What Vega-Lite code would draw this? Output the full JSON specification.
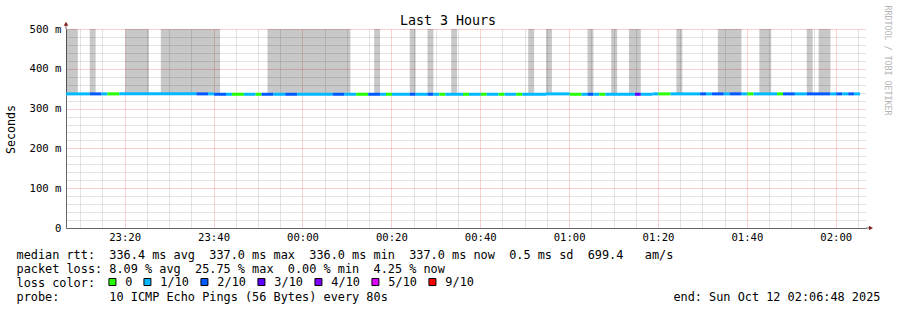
{
  "$schema": "https://vega.github.io/schema/vega-lite/v6.json",
  "width": 800,
  "height": 199,
  "autosize": {"type": "none"},
  "padding": {"left": 66, "top": 29, "right": 31, "bottom": 82},
  "background": "white",
  "title": {"text": "Last 3 Hours", "anchor": "middle", "frame": "group", "dx": -18, "dy": 38, "offset": 5, "baseline": "alphabetic", "font": "DejaVu Sans Mono", "fontSize": 13.3, "fontWeight": "normal", "color": "black"},
  "config": {"view": {"stroke": null}, "font": "DejaVu Sans Mono"},
  "datasets": {
    "smoke": [
      {"start": "2025-10-11T23:06:48Z", "end": "2025-10-11T23:09:28Z", "lo": 337, "hi": 520},
      {"start": "2025-10-11T23:12:08Z", "end": "2025-10-11T23:13:28Z", "lo": 337, "hi": 520},
      {"start": "2025-10-11T23:20:08Z", "end": "2025-10-11T23:25:28Z", "lo": 337, "hi": 520},
      {"start": "2025-10-11T23:28:08Z", "end": "2025-10-11T23:41:28Z", "lo": 337, "hi": 520},
      {"start": "2025-10-11T23:52:08Z", "end": "2025-10-12T00:10:48Z", "lo": 337, "hi": 520},
      {"start": "2025-10-12T00:16:08Z", "end": "2025-10-12T00:17:28Z", "lo": 337, "hi": 520},
      {"start": "2025-10-12T00:24:08Z", "end": "2025-10-12T00:25:28Z", "lo": 337, "hi": 520},
      {"start": "2025-10-12T00:28:08Z", "end": "2025-10-12T00:29:28Z", "lo": 337, "hi": 520},
      {"start": "2025-10-12T00:33:28Z", "end": "2025-10-12T00:34:48Z", "lo": 337, "hi": 520},
      {"start": "2025-10-12T00:50:48Z", "end": "2025-10-12T00:52:08Z", "lo": 337, "hi": 520},
      {"start": "2025-10-12T00:54:48Z", "end": "2025-10-12T00:56:08Z", "lo": 337, "hi": 520},
      {"start": "2025-10-12T01:04:08Z", "end": "2025-10-12T01:05:28Z", "lo": 337, "hi": 520},
      {"start": "2025-10-12T01:09:28Z", "end": "2025-10-12T01:10:48Z", "lo": 337, "hi": 520},
      {"start": "2025-10-12T01:13:28Z", "end": "2025-10-12T01:16:08Z", "lo": 337, "hi": 520},
      {"start": "2025-10-12T01:24:08Z", "end": "2025-10-12T01:25:28Z", "lo": 337, "hi": 520},
      {"start": "2025-10-12T01:33:28Z", "end": "2025-10-12T01:38:48Z", "lo": 337, "hi": 520},
      {"start": "2025-10-12T01:42:48Z", "end": "2025-10-12T01:45:28Z", "lo": 337, "hi": 520},
      {"start": "2025-10-12T01:53:28Z", "end": "2025-10-12T01:54:48Z", "lo": 337, "hi": 520},
      {"start": "2025-10-12T01:56:08Z", "end": "2025-10-12T01:58:48Z", "lo": 337, "hi": 520}
    ],
    "median": [
      {"start": "2025-10-11T23:06:48Z", "end": "2025-10-11T23:12:08Z", "loss": "1/10", "median": 337},
      {"start": "2025-10-11T23:12:08Z", "end": "2025-10-11T23:14:48Z", "loss": "2/10", "median": 337},
      {"start": "2025-10-11T23:14:48Z", "end": "2025-10-11T23:16:08Z", "loss": "1/10", "median": 337},
      {"start": "2025-10-11T23:16:08Z", "end": "2025-10-11T23:18:48Z", "loss": "0", "median": 337},
      {"start": "2025-10-11T23:18:48Z", "end": "2025-10-11T23:36:08Z", "loss": "1/10", "median": 337},
      {"start": "2025-10-11T23:36:08Z", "end": "2025-10-11T23:38:48Z", "loss": "2/10", "median": 337},
      {"start": "2025-10-11T23:38:48Z", "end": "2025-10-11T23:40:08Z", "loss": "1/10", "median": 337},
      {"start": "2025-10-11T23:40:08Z", "end": "2025-10-11T23:42:48Z", "loss": "2/10", "median": 336},
      {"start": "2025-10-11T23:42:48Z", "end": "2025-10-11T23:44:08Z", "loss": "1/10", "median": 336},
      {"start": "2025-10-11T23:44:08Z", "end": "2025-10-11T23:46:48Z", "loss": "0", "median": 336},
      {"start": "2025-10-11T23:46:48Z", "end": "2025-10-11T23:49:28Z", "loss": "1/10", "median": 336},
      {"start": "2025-10-11T23:49:28Z", "end": "2025-10-11T23:50:48Z", "loss": "0", "median": 336},
      {"start": "2025-10-11T23:50:48Z", "end": "2025-10-11T23:53:28Z", "loss": "2/10", "median": 336},
      {"start": "2025-10-11T23:53:28Z", "end": "2025-10-11T23:56:08Z", "loss": "1/10", "median": 336},
      {"start": "2025-10-11T23:56:08Z", "end": "2025-10-11T23:58:48Z", "loss": "2/10", "median": 336},
      {"start": "2025-10-11T23:58:48Z", "end": "2025-10-12T00:06:48Z", "loss": "1/10", "median": 336},
      {"start": "2025-10-12T00:06:48Z", "end": "2025-10-12T00:09:28Z", "loss": "2/10", "median": 336},
      {"start": "2025-10-12T00:09:28Z", "end": "2025-10-12T00:12:08Z", "loss": "1/10", "median": 336},
      {"start": "2025-10-12T00:12:08Z", "end": "2025-10-12T00:14:48Z", "loss": "0", "median": 336},
      {"start": "2025-10-12T00:14:48Z", "end": "2025-10-12T00:17:28Z", "loss": "2/10", "median": 336},
      {"start": "2025-10-12T00:17:28Z", "end": "2025-10-12T00:18:48Z", "loss": "1/10", "median": 336},
      {"start": "2025-10-12T00:18:48Z", "end": "2025-10-12T00:20:08Z", "loss": "0", "median": 336},
      {"start": "2025-10-12T00:20:08Z", "end": "2025-10-12T00:24:08Z", "loss": "1/10", "median": 336},
      {"start": "2025-10-12T00:24:08Z", "end": "2025-10-12T00:25:28Z", "loss": "2/10", "median": 336},
      {"start": "2025-10-12T00:25:28Z", "end": "2025-10-12T00:28:08Z", "loss": "1/10", "median": 336},
      {"start": "2025-10-12T00:28:08Z", "end": "2025-10-12T00:29:28Z", "loss": "2/10", "median": 336},
      {"start": "2025-10-12T00:29:28Z", "end": "2025-10-12T00:30:48Z", "loss": "1/10", "median": 336},
      {"start": "2025-10-12T00:30:48Z", "end": "2025-10-12T00:32:08Z", "loss": "0", "median": 336},
      {"start": "2025-10-12T00:32:08Z", "end": "2025-10-12T00:36:08Z", "loss": "1/10", "median": 336},
      {"start": "2025-10-12T00:36:08Z", "end": "2025-10-12T00:37:28Z", "loss": "0", "median": 336},
      {"start": "2025-10-12T00:37:28Z", "end": "2025-10-12T00:40:08Z", "loss": "1/10", "median": 336},
      {"start": "2025-10-12T00:40:08Z", "end": "2025-10-12T00:41:28Z", "loss": "0", "median": 336},
      {"start": "2025-10-12T00:41:28Z", "end": "2025-10-12T00:44:08Z", "loss": "1/10", "median": 336},
      {"start": "2025-10-12T00:44:08Z", "end": "2025-10-12T00:45:28Z", "loss": "0", "median": 336},
      {"start": "2025-10-12T00:45:28Z", "end": "2025-10-12T00:48:08Z", "loss": "1/10", "median": 336},
      {"start": "2025-10-12T00:48:08Z", "end": "2025-10-12T00:49:28Z", "loss": "0", "median": 336},
      {"start": "2025-10-12T00:49:28Z", "end": "2025-10-12T00:54:48Z", "loss": "1/10", "median": 336},
      {"start": "2025-10-12T00:54:48Z", "end": "2025-10-12T01:00:08Z", "loss": "1/10", "median": 337},
      {"start": "2025-10-12T01:00:08Z", "end": "2025-10-12T01:02:48Z", "loss": "0", "median": 336},
      {"start": "2025-10-12T01:02:48Z", "end": "2025-10-12T01:04:08Z", "loss": "1/10", "median": 336},
      {"start": "2025-10-12T01:04:08Z", "end": "2025-10-12T01:05:28Z", "loss": "2/10", "median": 336},
      {"start": "2025-10-12T01:05:28Z", "end": "2025-10-12T01:06:48Z", "loss": "1/10", "median": 336},
      {"start": "2025-10-12T01:06:48Z", "end": "2025-10-12T01:08:08Z", "loss": "0", "median": 336},
      {"start": "2025-10-12T01:08:08Z", "end": "2025-10-12T01:14:48Z", "loss": "1/10", "median": 336},
      {"start": "2025-10-12T01:14:48Z", "end": "2025-10-12T01:16:08Z", "loss": "3/10", "median": 336},
      {"start": "2025-10-12T01:16:08Z", "end": "2025-10-12T01:18:48Z", "loss": "1/10", "median": 336},
      {"start": "2025-10-12T01:18:48Z", "end": "2025-10-12T01:20:08Z", "loss": "1/10", "median": 337},
      {"start": "2025-10-12T01:20:08Z", "end": "2025-10-12T01:22:48Z", "loss": "0", "median": 337},
      {"start": "2025-10-12T01:22:48Z", "end": "2025-10-12T01:29:28Z", "loss": "1/10", "median": 337},
      {"start": "2025-10-12T01:29:28Z", "end": "2025-10-12T01:30:48Z", "loss": "2/10", "median": 337},
      {"start": "2025-10-12T01:30:48Z", "end": "2025-10-12T01:32:08Z", "loss": "1/10", "median": 337},
      {"start": "2025-10-12T01:32:08Z", "end": "2025-10-12T01:34:48Z", "loss": "2/10", "median": 337},
      {"start": "2025-10-12T01:34:48Z", "end": "2025-10-12T01:36:08Z", "loss": "1/10", "median": 337},
      {"start": "2025-10-12T01:36:08Z", "end": "2025-10-12T01:38:48Z", "loss": "2/10", "median": 337},
      {"start": "2025-10-12T01:38:48Z", "end": "2025-10-12T01:40:08Z", "loss": "1/10", "median": 337},
      {"start": "2025-10-12T01:40:08Z", "end": "2025-10-12T01:41:28Z", "loss": "0", "median": 337},
      {"start": "2025-10-12T01:41:28Z", "end": "2025-10-12T01:46:48Z", "loss": "1/10", "median": 337},
      {"start": "2025-10-12T01:46:48Z", "end": "2025-10-12T01:48:08Z", "loss": "0", "median": 337},
      {"start": "2025-10-12T01:48:08Z", "end": "2025-10-12T01:50:48Z", "loss": "2/10", "median": 337},
      {"start": "2025-10-12T01:50:48Z", "end": "2025-10-12T01:53:28Z", "loss": "1/10", "median": 337},
      {"start": "2025-10-12T01:53:28Z", "end": "2025-10-12T01:58:48Z", "loss": "2/10", "median": 337},
      {"start": "2025-10-12T01:58:48Z", "end": "2025-10-12T02:00:08Z", "loss": "1/10", "median": 337},
      {"start": "2025-10-12T02:00:08Z", "end": "2025-10-12T02:01:28Z", "loss": "2/10", "median": 337},
      {"start": "2025-10-12T02:01:28Z", "end": "2025-10-12T02:02:48Z", "loss": "1/10", "median": 337},
      {"start": "2025-10-12T02:02:48Z", "end": "2025-10-12T02:04:08Z", "loss": "2/10", "median": 337},
      {"start": "2025-10-12T02:04:08Z", "end": "2025-10-12T02:05:28Z", "loss": "1/10", "median": 337}
    ]
  },
  "layer": [
    {
      "data": {"name": "smoke"},
      "mark": {"type": "rect", "color": "black", "opacity": 0.215, "clip": true},
      "encoding": {
        "x": {
          "field": "start", "type": "temporal",
          "scale": {"type": "utc", "domain": [1760224008000, 1760234808000]},
          "axis": {
            "values": [1760224200000, 1760224500000, 1760224800000, 1760225100000, 1760225400000, 1760225700000, 1760226000000, 1760226300000, 1760226600000, 1760226900000, 1760227200000, 1760227500000, 1760227800000, 1760228100000, 1760228400000, 1760228700000, 1760229000000, 1760229300000, 1760229600000, 1760229900000, 1760230200000, 1760230500000, 1760230800000, 1760231100000, 1760231400000, 1760231700000, 1760232000000, 1760232300000, 1760232600000, 1760232900000, 1760233200000, 1760233500000, 1760233800000, 1760234100000, 1760234400000, 1760234700000],
            "labelExpr": "utcminutes(datum.value) % 20 === 0 ? utcFormat(datum.value, '%H:%M') : ''",
            "labelFont": "DejaVu Sans Mono", "labelFontSize": 10.6, "labelColor": "black",
            "labelPadding": 4, "labelOverlap": false, "labelFlush": false,
            "ticks": false, "domainColor": "#666666", "domainWidth": 1,
            "grid": true,
            "gridColor": {"condition": {"test": "utcminutes(datum.value) % 20 === 0", "value": "#f4a0a0"}, "value": "#c4c4c4"},
            "gridDash": [1, 1], "gridWidth": 1,
            "title": [
              "median rtt:\u00a0\u00a0336.4 ms avg\u00a0\u00a0337.0 ms max\u00a0\u00a0336.0 ms min\u00a0\u00a0337.0 ms now\u00a0\u00a00.5 ms sd\u00a0\u00a0699.4\u00a0\u00a0\u00a0am/s",
              "packet loss: 8.09 % avg\u00a0\u00a025.75 % max\u00a0\u00a00.00 % min\u00a0\u00a04.25 % now",
              "loss color:",
              "probe:\u00a0\u00a0\u00a0\u00a0\u00a0\u00a0\u00a010 ICMP Echo Pings (56 Bytes) every 80s\u00a0\u00a0\u00a0\u00a0\u00a0\u00a0\u00a0\u00a0\u00a0\u00a0\u00a0\u00a0\u00a0\u00a0\u00a0\u00a0\u00a0\u00a0\u00a0\u00a0\u00a0\u00a0\u00a0\u00a0\u00a0\u00a0\u00a0\u00a0\u00a0\u00a0\u00a0\u00a0\u00a0\u00a0\u00a0\u00a0\u00a0\u00a0\u00a0\u00a0end: Sun Oct 12 02:06:48 2025"
            ],
            "titleFont": "DejaVu Sans Mono", "titleFontSize": 11.86, "titleFontWeight": "normal", "titleColor": "black",
            "titleAnchor": "start", "titleAlign": "left", "titleBaseline": "alphabetic",
            "titleX": -50, "titleY": 30, "titleLineHeight": 14, "titleLimit": 1200
          }
        },
        "x2": {"field": "end"},
        "y": {
          "field": "lo", "type": "quantitative",
          "scale": {"domain": [0, 500], "nice": false, "zero": true},
          "axis": {
            "values": [0, 20, 40, 60, 80, 100, 120, 140, 160, 180, 200, 220, 240, 260, 280, 300, 320, 340, 360, 380, 400, 420, 440, 460, 480, 500],
            "labelExpr": "datum.value % 100 === 0 ? (datum.value === 0 ? '0' : datum.value + ' m') : ''",
            "labelFont": "DejaVu Sans Mono", "labelFontSize": 10.6, "labelColor": "black",
            "labelPadding": 5, "labelOverlap": false, "labelFlush": false,
            "ticks": false, "domainColor": "#666666", "domainWidth": 1,
            "grid": true,
            "gridColor": {"condition": {"test": "datum.value % 100 === 0", "value": "#f4a0a0"}, "value": "#c4c4c4"},
            "gridDash": [1, 1], "gridWidth": 1,
            "title": "Seconds", "titleFont": "DejaVu Sans Mono", "titleFontSize": 11.63, "titleFontWeight": "normal", "titleColor": "black",
            "titleAngle": -90, "titleX": -55, "titleY": 100, "titleAlign": "center", "titleBaseline": "middle"
          }
        },
        "y2": {"field": "hi"}
      }
    },
    {
      "data": {"name": "median"},
      "mark": {"type": "rule", "strokeWidth": 3},
      "encoding": {
        "x": {"field": "start", "type": "temporal", "axis": null},
        "x2": {"field": "end"},
        "y": {
          "field": "median", "type": "quantitative",
          "axis": {
            "orient": "right", "title": "RRDTOOL / TOBI OETIKER",
            "labels": false, "ticks": false, "domain": false, "grid": false,
            "titleAngle": 90, "titleX": 20, "titleY": 31, "titleAlign": "center", "titleBaseline": "middle",
            "titleFont": "DejaVu Sans Mono", "titleFontSize": 8.3, "titleFontWeight": "normal", "titleColor": "#b4b4b4"
          }
        },
        "color": {
          "field": "loss", "type": "nominal",
          "scale": {"domain": ["0", "1/10", "2/10", "3/10", "4/10", "5/10", "9/10"], "range": ["#26ff00", "#00b8ff", "#0059ff", "#5e00ff", "#7e00ff", "#dd00ff", "#ff0000"]},
          "legend": null
        }
      }
    },
    {
      "data": {"name": "median"},
      "mark": {"type": "square", "filled": true, "stroke": "black", "strokeWidth": 1, "opacity": 0, "size": 49},
      "encoding": {
        "x": {"field": "start", "type": "temporal", "axis": null},
        "y": {"field": "median", "type": "quantitative", "axis": null},
        "color": {
          "field": "loss", "type": "nominal",
          "legend": {
            "title": null, "orient": "none", "legendX": 40.5, "legendY": 247,
            "direction": "horizontal", "columns": 7, "columnPadding": 9, "padding": 0,
            "symbolType": "square", "symbolSize": 49, "symbolStrokeWidth": 1, "symbolStrokeColor": "black", "symbolOpacity": 1,
            "labelFont": "DejaVu Sans Mono", "labelFontSize": 11.86, "labelColor": "black", "labelOffset": 7
          }
        }
      }
    },
    {
      "data": {"values": [{}]},
      "mark": {"type": "rule", "color": "#666666", "strokeWidth": 1},
      "encoding": {
        "x": {"datum": 1760224008000, "type": "temporal", "axis": null},
        "y": {"datum": 500, "type": "quantitative", "axis": null},
        "y2": {"datum": 510}
      }
    },
    {
      "data": {"values": [{}]},
      "mark": {"type": "point", "shape": "triangle-up", "filled": true, "color": "#8b2020", "size": 22, "opacity": 1},
      "encoding": {
        "x": {"datum": 1760224008000, "type": "temporal", "axis": null},
        "y": {"datum": 513, "type": "quantitative", "axis": null}
      }
    },
    {
      "data": {"values": [{}]},
      "mark": {"type": "rule", "color": "#666666", "strokeWidth": 1},
      "encoding": {
        "x": {"datum": 1760234808000, "type": "temporal", "axis": null},
        "x2": {"datum": 1760234850000},
        "y": {"datum": 0, "type": "quantitative", "axis": null}
      }
    },
    {
      "data": {"values": [{}]},
      "mark": {"type": "point", "shape": "triangle-right", "filled": true, "color": "#8b2020", "size": 22, "opacity": 1},
      "encoding": {
        "x": {"datum": 1760234875000, "type": "temporal", "axis": null},
        "y": {"datum": 0, "type": "quantitative", "axis": null}
      }
    }
  ],
  "resolve": {"axis": {"x": "independent", "y": "independent"}, "legend": {"color": "independent"}}
}
